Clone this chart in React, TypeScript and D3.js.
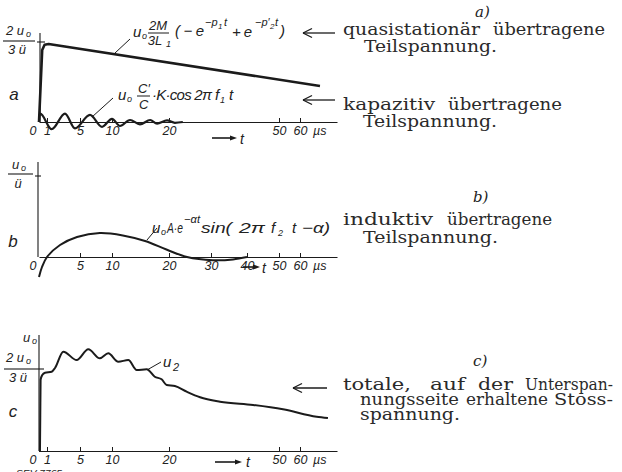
import * as d3 from 'd3';
import React, { useRef, useEffect } from 'react';

const W = 622, H = 472;

// time axis (µs) - the original axis is stretched, not linear
const tBreaks = [0, 1, 5, 10, 20, 30, 40, 50, 60, 80];
const ticksA = [1, 5, 10, 20, 50, 60];
const ticksB = [5, 10, 20, 30, 40, 50, 60];
const ticksC = [1, 5, 10, 20, 50, 60];

// a) quasistationary part, in units of 2u0/3ü
const quasiT = [0, 0.4, 0.7, 1.2, 70.8];
const quasiV = [0, 0.9, 0.965, 0.975, 0.45];

// a) capacitive part (oscillation)
const capT = [0, 0.06, 0.15, 1.57, 3.18, 4.39, 6.56, 8.44, 10, 11.4, 13.16, 14.9, 16.7, 17.9, 19.65, 21.4, 23.3];
const capV = [0, 0.08, 0.105, -0.09, 0.105, -0.08, 0.09, -0.06, 0.04, -0.05, 0.025, -0.03, 0.025, -0.02, 0.02, -0.01, 0];

// b) inductive part, in units of u0/ü
const indT = [0, 0.375, 1, 2.58, 4.64, 8.1, 11.9, 15.8, 19.65, 24.3, 30.5, 36.1, 40];
const indV = [-0.25, -0.125, 0, 0.15, 0.25, 0.3, 0.27, 0.2, 0.09, 0, -0.04, -0.03, 0];

// c) total voltage u2, in units of 2u0/3ü
const totT = [0, 0.12, 0.2, 0.41, 0.75, 1.57, 1.97, 2.98, 4.6, 6.3, 8.1, 9.42, 11.1, 12.86, 14.33, 16.1, 17.5, 18.7, 19.6, 21.4, 24.2, 27.4, 32.5, 41.9, 51.9, 69.0, 75.1];
const totV = [0, 0, 0.88, 0.938, 0.967, 0.979, 1.025, 1.226, 1.123, 1.256, 1.144, 1.206, 1.102, 1.123, 1.0, 1.009, 0.917, 0.885, 0.815, 0.802, 0.732, 0.663, 0.609, 0.568, 0.515, 0.423, 0.407];

const ink = '#1b1b1b';
const sansIt = 'Liberation Sans';
const serif = 'DejaVu Serif';

function App() {
    const ref = useRef<SVGSVGElement>(null);

    useEffect(() => {
        draw();
    });

    const draw = () => {
        const svg = d3.select(ref.current);
        svg.selectAll('*').remove();
        svg.attr('width', W).attr('height', H);
        svg.append('rect').attr('width', W).attr('height', H).attr('fill', 'white');

        const x = d3.scaleLinear()
            .domain(tBreaks)
            .range([39, 47, 80, 112, 169, 211, 247, 279, 300, 337]);

        const yA = d3.scaleLinear().domain([0, 1]).range([122, 42]);
        const yB = d3.scaleLinear().domain([0, 1]).range([257, 177]);
        const yC = d3.scaleLinear().domain([0, 1]).range([451, 370]);

        const txt = (s: string, px: number, py: number, size: number, opts: any = {}) => {
            const t = svg.append('text')
                .attr('x', px).attr('y', py)
                .attr('fill', opts.fill || '#222')
                .style('font-family', opts.font || sansIt)
                .style('font-size', size + 'px')
                .style('font-style', opts.italic === false ? 'normal' : 'italic')
                .attr('text-anchor', opts.anchor || 'start')
                .text(s);
            if (opts.len) t.attr('textLength', opts.len).attr('lengthAdjust', opts.adj || 'spacingAndGlyphs');
            return t;
        };
        const seg = (x1: number, y1: number, x2: number, y2: number, w = 1) => {
            svg.append('line')
                .attr('x1', x1).attr('y1', y1).attr('x2', x2).attr('y2', y2)
                .attr('stroke', ink).attr('stroke-width', w);
        };
        const arrowRight = (x1: number, x2: number, yy: number) => {
            seg(x1, yy, x2 - 5, yy, 1.6);
            svg.append('path')
                .attr('d', `M${x2},${yy} L${x2 - 7},${yy - 2.5} L${x2 - 7},${yy + 2.5} Z`)
                .attr('fill', ink);
        };
        const arrowLeft = (x1: number, x2: number, yy: number) => {
            seg(x1, yy, x2, yy, 1.3);
            seg(x1, yy, x1 + 9, yy - 4.5, 1.3);
            seg(x1, yy, x1 + 9, yy + 4.5, 1.3);
        };

        const axis = (ticks: number[], base: number) => {
            const g = svg.append('g')
                .attr('transform', `translate(0,${base})`)
                .call(d3.axisBottom(x)
                    .tickValues(ticks)
                    .tickSizeInner(-4)
                    .tickSizeOuter(0)
                    .tickPadding(4)
                    .tickFormat(d3.format('d')));
            g.select('.domain').attr('stroke', ink).attr('stroke-width', 1.1);
            g.selectAll('.tick line').attr('stroke', ink);
            g.selectAll('.tick text')
                .attr('fill', '#222')
                .style('font-family', sansIt)
                .style('font-size', '12.5px')
                .style('font-style', 'italic');
            txt('0', 33, base + 13, 12.5, { anchor: 'middle' });
            txt('µs', 313, base + 13, 12.5);
        };

        const lineOf = (ys: d3.ScaleLinear<number, number>, curve: any) =>
            d3.line<[number, number]>()
                .x((d) => x(d[0]))
                .y((d) => ys(d[1]))
                .curve(curve);

        const plot = (ts: number[], vs: number[], ys: any, curve: any, w: number) => {
            svg.append('path')
                .datum(ts.map((t, i) => [t, vs[i]] as [number, number]))
                .attr('d', lineOf(ys, curve))
                .attr('fill', 'none')
                .attr('stroke', ink)
                .attr('stroke-width', w)
                .attr('stroke-linejoin', 'round');
        };

        // ---------- panel a ----------
        seg(40, 33, 40, 122, 1.1);
        seg(37, 42, 45, 42, 1.1);
        axis(ticksA, 122);
        plot(quasiT, quasiV, yA, d3.curveLinear, 2.6);
        plot(capT, capV, yA, d3.curveMonotoneX, 2.2);

        txt('2 u', 6, 35, 13);
        txt('o', 26, 37, 9);
        seg(3, 41, 35, 41, 1.1);
        txt('3 ü', 8, 54, 13);
        txt('a', 14, 100, 17, { anchor: 'middle' });

        // formula 1
        txt('u', 133, 37, 15);
        txt('o', 142, 39, 9);
        txt('2M', 158, 30, 13, { anchor: 'middle' });
        seg(148, 33, 169, 33, 1);
        txt('3L', 155, 45, 13, { anchor: 'middle' });
        txt('1', 166, 47, 9);
        txt('( − e', 175, 36, 15, { len: 29, adj: 'spacing' });
        txt('−p', 205, 26, 11);
        txt('1', 218, 29, 8);
        txt('t', 224, 26, 11);
        txt('+ e', 232, 37, 15, { len: 20, adj: 'spacing' });
        txt('−p′', 255, 26, 11);
        txt('2', 270, 29, 8);
        txt('t', 275, 26, 11);
        txt(')', 280, 36, 15);
        seg(115, 53, 130, 39, 1);

        // formula 2
        txt('u', 118, 100, 15);
        txt('o', 127, 102, 9);
        txt('C′', 138, 93, 13);
        seg(137, 96, 150, 96, 1);
        txt('C', 139, 109, 13);
        txt('·K·cos 2π', 152, 100, 15, { len: 60, adj: 'spacing' });
        txt('f', 215, 100, 15);
        txt('1', 220, 103, 9);
        txt('t', 229, 100, 15);
        seg(92, 117, 113, 98, 1);

        arrowRight(212, 237, 138);
        txt('t', 240, 144, 14);

        // ---------- panel b ----------
        seg(38, 162, 38, 257, 1.1);
        seg(35, 176, 41, 176, 1.1);
        axis(ticksB, 257);
        plot(indT, indV, yB, d3.curveCatmullRom, 2);

        txt('u', 12, 169, 13);
        txt('o', 21, 171, 9);
        seg(8, 174, 33, 174, 1.1);
        txt('ü', 18, 188, 13, { anchor: 'middle' });
        txt('b', 13, 247, 17, { anchor: 'middle' });

        txt('u', 152, 233, 15);
        txt('o', 161, 235, 9);
        txt('A·e', 167, 233, 15, { len: 16 });
        txt('−αt', 184, 223, 11, { len: 16 });
        txt('sin(', 201, 233, 15, { len: 31 });
        txt('2π', 239, 233, 15, { len: 26 });
        txt('f', 271, 233, 15);
        txt('2', 278, 236, 9);
        txt('t', 292, 233, 15);
        txt('−α)', 302, 233, 15, { len: 28 });
        seg(147, 240, 157, 228, 1);

        arrowRight(243, 260, 267);
        txt('t', 262, 273, 14);

        // ---------- panel c ----------
        seg(39, 335, 39, 451, 1.1);
        seg(35, 369, 44, 369, 1.1);
        axis(ticksC, 451);
        plot(totT, totV, yC, d3.curveMonotoneX, 2);

        txt('u', 23, 342, 13);
        txt('o', 32, 344, 9);
        txt('2 u', 6, 362, 13);
        txt('o', 26, 364, 9);
        seg(4, 369, 35, 369, 1.1);
        txt('3 ü', 9, 382, 13);
        txt('c', 13, 417, 17, { anchor: 'middle' });

        txt('u', 163, 367, 15);
        txt('2', 173, 371, 11);
        seg(147, 370, 161, 362, 1);

        arrowRight(215, 242, 462);
        txt('t', 246, 467, 14);
        txt('SEV 7765', 16, 476, 9, { len: 46 });

        // ---------- right-hand text ----------
        const fs = 16.5;
        const sOpt = (len: number) => ({ font: serif, italic: false, len, fill: '#2a2a2a' });
        txt('a)', 475, 17, 15, { font: serif });
        arrowLeft(303, 335, 33);
        txt('quasistationär', 343, 35, fs, sOpt(137));
        txt('übertragene', 493, 35, fs, sOpt(112));
        txt('Teilspannung.', 364, 52, fs, sOpt(133));

        arrowLeft(303, 335, 100);
        txt('kapazitiv', 343, 110, fs, sOpt(92));
        txt('übertragene', 448, 110, fs, sOpt(114));
        txt('Teilspannung.', 363, 127, fs, sOpt(134));

        txt('b)', 473, 202, 15, { font: serif });
        txt('induktiv', 343, 225, fs, sOpt(90));
        txt('übertragene', 447, 225, fs, sOpt(105));
        txt('Teilspannung.', 363, 243, fs, sOpt(135));

        txt('c)', 473, 366, 15, { font: serif });
        arrowLeft(293, 327, 388);
        txt('totale,', 343, 390, fs, sOpt(68));
        txt('auf', 430, 390, fs, sOpt(35));
        txt('der', 478, 390, fs, sOpt(35));
        txt('Unterspan-', 525, 390, fs, sOpt(88));
        txt('nungsseite', 360, 405, fs, sOpt(99));
        txt('erhaltene', 466, 405, fs, sOpt(82));
        txt('Stoss-', 554, 405, fs, sOpt(59));
        txt('spannung.', 360, 420, fs, sOpt(100));
    };

    return (
        <div style={{ position: 'absolute', left: 0, top: 0 }}>
            <svg ref={ref} style={{ display: 'block' }}></svg>
        </div>
    );
}

export default App;
